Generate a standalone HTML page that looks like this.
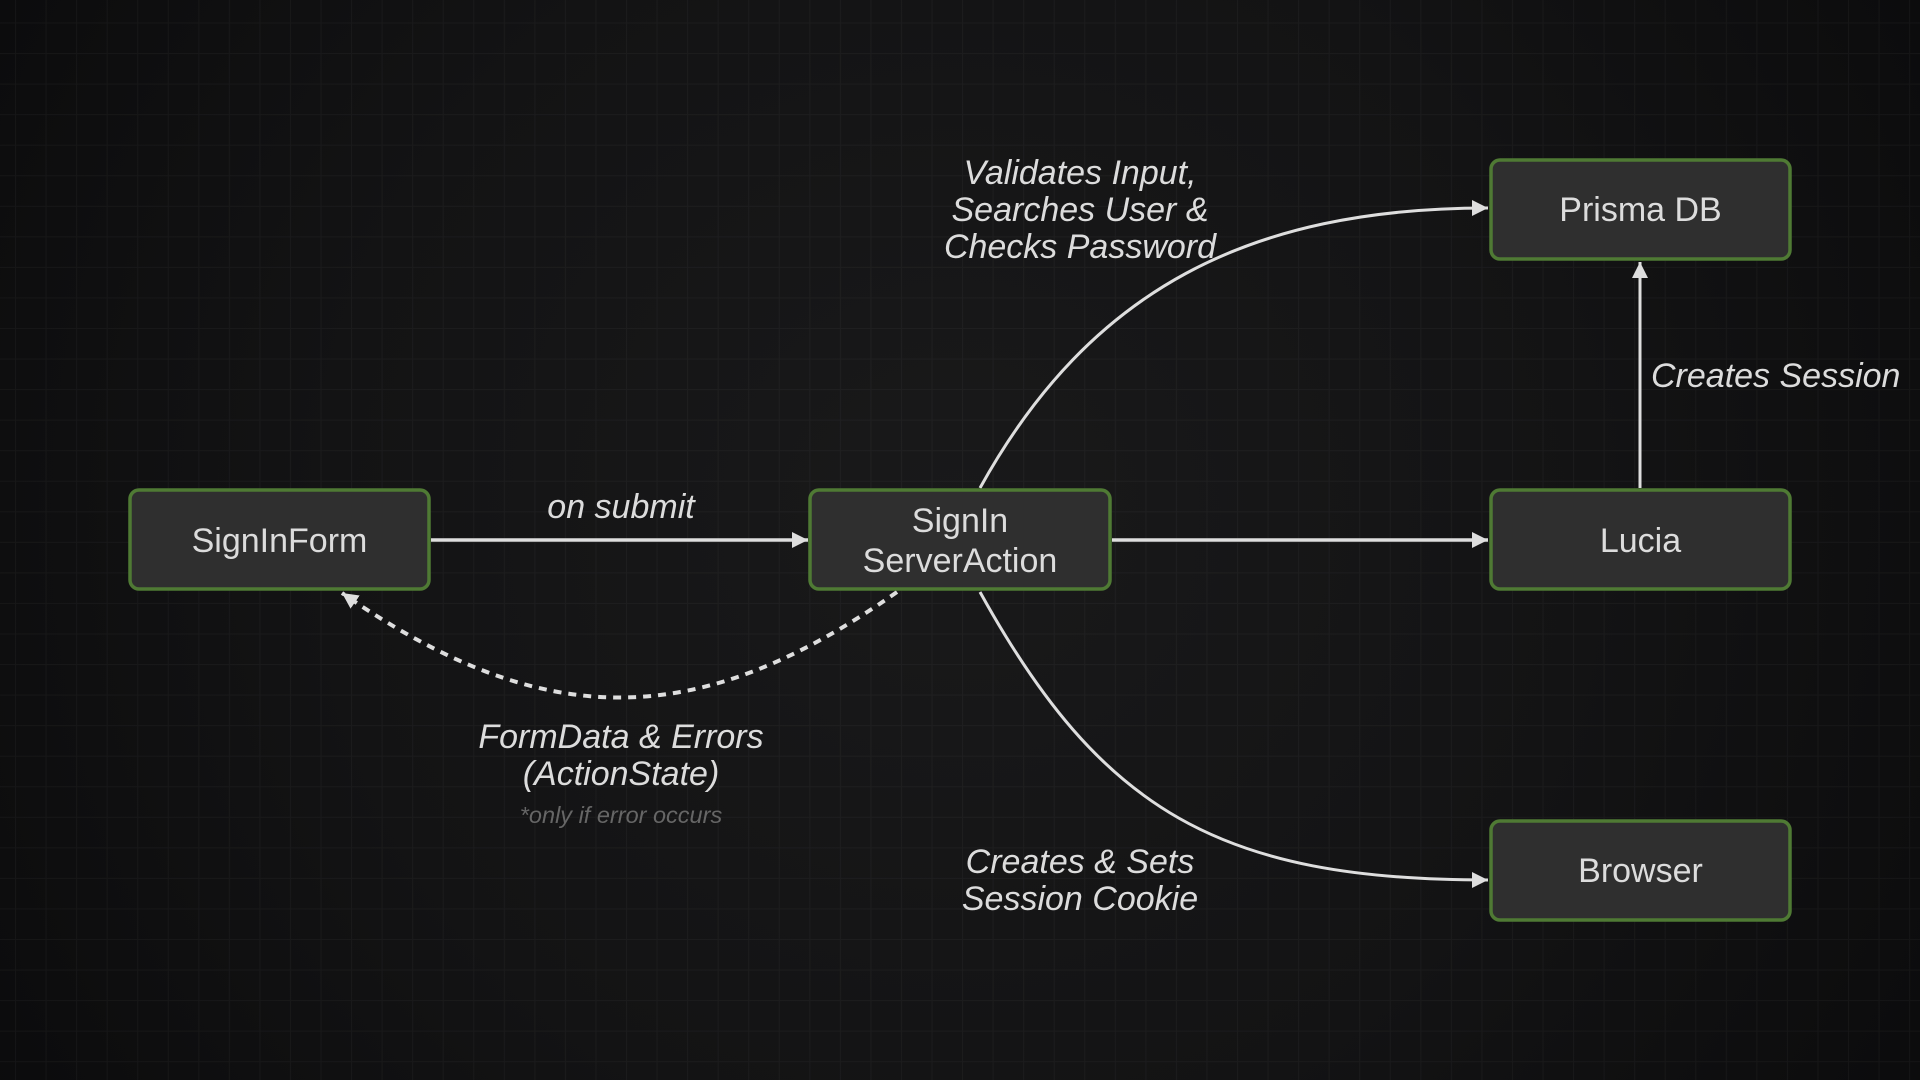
<!DOCTYPE html>
<html>
<head>
<meta charset="utf-8">
<style>
  html, body { margin: 0; padding: 0; width: 1920px; height: 1080px; overflow: hidden; background: #0e0e0f; }
  svg { display: block; }
  .node { font-family: "Liberation Sans", Arial, sans-serif; font-size: 34px; fill: #dcdcdc; text-anchor: middle; }
  .lbl { font-family: "Liberation Sans", Arial, sans-serif; font-size: 34px; fill: #dcdcdc; font-style: italic; text-anchor: middle; }
  .note { font-family: "Liberation Sans", Arial, sans-serif; font-size: 23.5px; fill: #666666; font-style: italic; text-anchor: middle; }
</style>
</head>
<body>
<svg width="1920" height="1080" viewBox="0 0 1920 1080" xmlns="http://www.w3.org/2000/svg">
  <defs>
    <radialGradient id="bg" cx="960" cy="520" r="1150" gradientUnits="userSpaceOnUse">
      <stop offset="0" stop-color="#19191a"/>
      <stop offset="0.55" stop-color="#131314"/>
      <stop offset="1" stop-color="#0b0b0c"/>
    </radialGradient>
    <pattern id="grid" x="15" y="22.5" width="30.55" height="30.55" patternUnits="userSpaceOnUse">
      <path d="M0.5,0 L0.5,30.55 M0,0.5 L30.55,0.5" stroke="rgba(255,255,255,0.035)" stroke-width="1" fill="none"/>
    </pattern>
    <marker id="ah" markerUnits="userSpaceOnUse" markerWidth="17" markerHeight="17" refX="16" refY="8" orient="auto">
      <path d="M0,0 L16,8 L0,16 z" fill="#dedede"/>
    </marker>
  </defs>

  <rect x="0" y="0" width="1920" height="1080" fill="url(#bg)"/>
  <rect x="0" y="0" width="1920" height="1080" fill="url(#grid)"/>

  <!-- connectors -->
  <line x1="431" y1="540" x2="808" y2="540" stroke="#dedede" stroke-width="3.5" marker-end="url(#ah)"/>
  <line x1="1112" y1="540" x2="1488" y2="540" stroke="#dedede" stroke-width="3.5" marker-end="url(#ah)"/>
  <line x1="1640" y1="488" x2="1640" y2="262" stroke="#dedede" stroke-width="3" marker-end="url(#ah)"/>
  <path d="M980,488 C1090,289 1250,208 1488,208" fill="none" stroke="#dedede" stroke-width="3" marker-end="url(#ah)"/>
  <path d="M980,592 C1101,811 1220,880 1488,880" fill="none" stroke="#dedede" stroke-width="3" marker-end="url(#ah)"/>
  <path d="M897,592 C697,732 544,733 342,593" fill="none" stroke="#dedede" stroke-width="4" stroke-dasharray="8 7" marker-end="url(#ah)"/>

  <!-- nodes -->
  <g stroke="#4f7a34" stroke-width="3.5" fill="#2f2f2f">
    <rect x="130" y="490" width="299" height="99" rx="9"/>
    <rect x="810" y="490" width="300" height="99" rx="9"/>
    <rect x="1491" y="490" width="299" height="99" rx="9"/>
    <rect x="1491" y="160" width="299" height="99" rx="9"/>
    <rect x="1491" y="821" width="299" height="99" rx="9"/>
  </g>

  <text class="node" x="279.5" y="552">SignInForm</text>
  <text class="node" x="960" y="532">SignIn</text>
  <text class="node" x="960" y="572">ServerAction</text>
  <text class="node" x="1640.5" y="552">Lucia</text>
  <text class="node" x="1640.5" y="221">Prisma DB</text>
  <text class="node" x="1640.5" y="882">Browser</text>

  <!-- labels -->
  <text class="lbl" x="621" y="518">on submit</text>
  <text class="lbl" x="1080" y="184">Validates Input,</text>
  <text class="lbl" x="1080" y="221">Searches User &amp;</text>
  <text class="lbl" x="1080" y="258">Checks Password</text>
  <text class="lbl" x="1651" y="387" style="text-anchor:start">Creates Session</text>
  <text class="lbl" x="621" y="748">FormData &amp; Errors</text>
  <text class="lbl" x="621" y="785">(ActionState)</text>
  <text class="note" x="621" y="823">*only if error occurs</text>
  <text class="lbl" x="1080" y="873">Creates &amp; Sets</text>
  <text class="lbl" x="1080" y="910">Session Cookie</text>
</svg>
</body>
</html>
